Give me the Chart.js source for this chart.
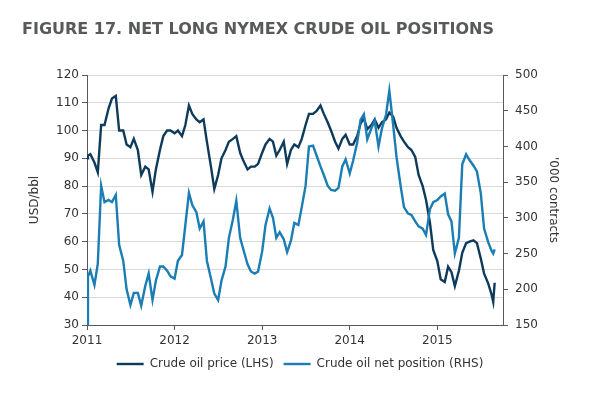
<!DOCTYPE html>
<html>
<head>
<meta charset="utf-8">
<script src="https://cdn.jsdelivr.net/npm/chart.js@4.4.0/dist/chart.umd.min.js"></script>
<style>
  body { margin: 0; background: #fff; }
  #wrap { position: relative; width: 600px; height: 406px; }
  #title { position: absolute; left: 22px; top: 21px; font: bold 16px 'DejaVu Sans', Verdana, sans-serif; line-height: 16px; color: #58595b; white-space: nowrap; }
  canvas { position: absolute; left: 0; top: 0; }
</style>
</head>
<body>
<div id="wrap">
  <canvas id="chart" width="600" height="406"></canvas>
  <div id="title">FIGURE 17. NET LONG NYMEX CRUDE OIL POSITIONS</div>
</div>
<script>
// sample dates (roughly twice a month)
const dates = [
  "2011-01-01","2011-01-05","2011-01-15","2011-02-01","2011-02-15","2011-03-01","2011-03-15","2011-04-01","2011-04-15","2011-05-01","2011-05-15","2011-06-01","2011-06-15","2011-07-01","2011-07-15","2011-08-01","2011-08-15","2011-09-01","2011-09-15","2011-10-01","2011-10-15","2011-11-01","2011-11-15","2011-12-01","2011-12-15",
  "2012-01-01","2012-01-15","2012-02-01","2012-02-15","2012-03-01","2012-03-15","2012-04-01","2012-04-15","2012-05-01","2012-05-15","2012-06-01","2012-06-15","2012-07-01","2012-07-15","2012-08-01","2012-08-15","2012-09-01","2012-09-15","2012-10-01","2012-10-15","2012-11-01","2012-11-15","2012-12-01","2012-12-15",
  "2013-01-01","2013-01-15","2013-02-01","2013-02-15","2013-03-01","2013-03-15","2013-04-01","2013-04-15","2013-05-01","2013-05-15","2013-06-01","2013-06-15","2013-07-01","2013-07-15","2013-08-01","2013-08-15","2013-09-01","2013-09-15","2013-10-01","2013-10-15","2013-11-01","2013-11-15","2013-12-01","2013-12-15",
  "2014-01-01","2014-01-15","2014-02-01","2014-02-15","2014-03-01","2014-03-15","2014-04-01","2014-04-15","2014-05-01","2014-05-15","2014-06-01","2014-06-15","2014-07-01","2014-07-15","2014-08-01","2014-08-15","2014-09-01","2014-09-15","2014-10-01","2014-10-15","2014-11-01","2014-11-15","2014-12-01","2014-12-15",
  "2015-01-01","2015-01-15","2015-02-01","2015-02-15","2015-03-01","2015-03-15","2015-04-01","2015-04-15","2015-05-01","2015-05-15","2015-06-01","2015-06-15","2015-07-01","2015-07-15","2015-08-01","2015-08-15","2015-08-22","2015-08-28"
];

// Crude oil price, USD/bbl (LHS)
const oilPrice = [
  90, 91, 91.5, 88.5, 85, 102, 102, 108, 111.5, 112.5, 100, 100, 95, 94, 97, 93, 84, 87, 86, 78, 86, 93, 98, 100, 100,
  99, 100, 98, 102, 109, 106, 104, 103, 104, 96, 87, 79, 84, 90, 93, 96, 97, 98, 92, 89, 86, 87, 87, 88,
  92, 95, 97, 96, 91, 93, 96, 88, 93, 95, 94, 97, 102, 106, 106, 107, 109, 106, 103, 100, 96, 93.5, 97, 98.5,
  95, 95, 98, 102.5, 104.5, 100.5, 102, 104, 101, 103, 104, 106.5, 105, 101, 98, 96, 94, 93, 90.5, 84, 80, 75, 67, 57,
  53, 46.5, 45.5, 51, 49, 44, 49.5, 56, 59.5, 60, 60.5, 59.5, 54, 48.5, 45, 41, 38.3, 45.2
];

// Crude oil net position, '000 contracts (RHS)
const netPosition = [
  150, 218, 226, 206, 236, 345, 322, 325, 322, 332, 262, 240, 200, 178, 195, 195, 177, 205, 222, 185, 212, 232, 232, 226, 218,
  215, 240, 248, 290, 335, 318, 308, 285, 295, 240, 215, 194, 185, 212, 232, 272, 298, 324, 272, 255, 235, 225, 222, 225,
  253, 290, 313, 300, 272, 280, 270, 252, 268, 293, 290, 315, 345, 400, 401, 388, 372, 360, 345, 339, 338, 342, 372, 382,
  362, 380, 405, 437, 445, 410, 425, 436, 400, 425, 444, 478, 430, 385, 345, 315, 306, 304, 295, 288, 285, 276, 312, 322,
  325, 330, 334, 305, 295, 250, 272, 375, 389, 381, 373, 365, 335, 285, 266, 254, 250, 256
];

const yearTicks = [2011, 2012, 2013, 2014, 2015];

const darkBlue = "#0e3a5b";
const lightBlue = "#1a7db4";
const axisGrey = "#595959";

function toYear(s) {
  const [y, m, d] = s.split("-").map(Number);
  const start = Date.UTC(y, 0, 1);
  return y + (Date.UTC(y, m - 1, d) - start) / (Date.UTC(y + 1, 0, 1) - start);
}

Chart.defaults.font.family = "'DejaVu Sans', Verdana, sans-serif";
Chart.defaults.font.size = 12;
Chart.defaults.color = "#333";

new Chart(document.getElementById("chart"), {
  type: "line",
  data: {
    datasets: [
      {
        label: "Crude oil price (LHS)",
        data: dates.map((d, i) => ({ x: toYear(d), y: oilPrice[i] })),
        yAxisID: "y",
        borderColor: darkBlue,
        backgroundColor: darkBlue,
        borderWidth: 2.4,
        pointRadius: 0,
        tension: 0,
        order: 1,
      },
      {
        label: "Crude oil net position (RHS)",
        data: dates.map((d, i) => ({ x: toYear(d), y: netPosition[i] })),
        yAxisID: "y1",
        borderColor: lightBlue,
        backgroundColor: lightBlue,
        borderWidth: 2.4,
        pointRadius: 0,
        tension: 0,
        order: 0,
      },
    ],
  },
  options: {
    responsive: false,
    animation: false,
    layout: { padding: { top: 75, bottom: 26, left: 0, right: 0 } },
    plugins: {
      tooltip: { enabled: false },
      legend: {
        position: "bottom",
        labels: {
          usePointStyle: true,
          pointStyle: "line",
          pointStyleWidth: 27,
          padding: 10,
          color: "#333",
          sort: (a, b) => a.datasetIndex - b.datasetIndex,
        },
      },
    },
    scales: {
      x: {
        type: "linear",
        min: 2011,
        max: 2015.75,
        afterBuildTicks: (scale) => {
          scale.ticks = yearTicks.map((v) => ({ value: v }));
        },
        afterFit: (scale) => {
          scale.height = 23;
        },
        ticks: { callback: (v) => String(v), padding: 4, autoSkip: false, maxRotation: 0 },
        grid: { drawOnChartArea: false, tickLength: 5, tickColor: axisGrey },
        border: { color: axisGrey },
      },
      y: {
        position: "left",
        min: 30,
        max: 120,
        ticks: { stepSize: 10, padding: 3 },
        grid: { color: "#d9d9d9", tickColor: axisGrey, tickLength: 5 },
        border: { color: axisGrey },
        title: { display: true, text: "USD/bbl", padding: { top: 28, bottom: 0 } },
        afterFit: (scale) => {
          scale.width = 87;
        },
      },
      y1: {
        position: "right",
        min: 150,
        max: 500,
        ticks: { stepSize: 50, padding: 7 },
        grid: { drawOnChartArea: false, tickColor: axisGrey, tickLength: 5 },
        border: { color: axisGrey },
        title: { display: true, text: "'000 contracts", padding: { top: 40, bottom: 0 } },
        afterFit: (scale) => {
          scale.width = 97;
        },
      },
    },
  },
});
</script>
</body>
</html>
